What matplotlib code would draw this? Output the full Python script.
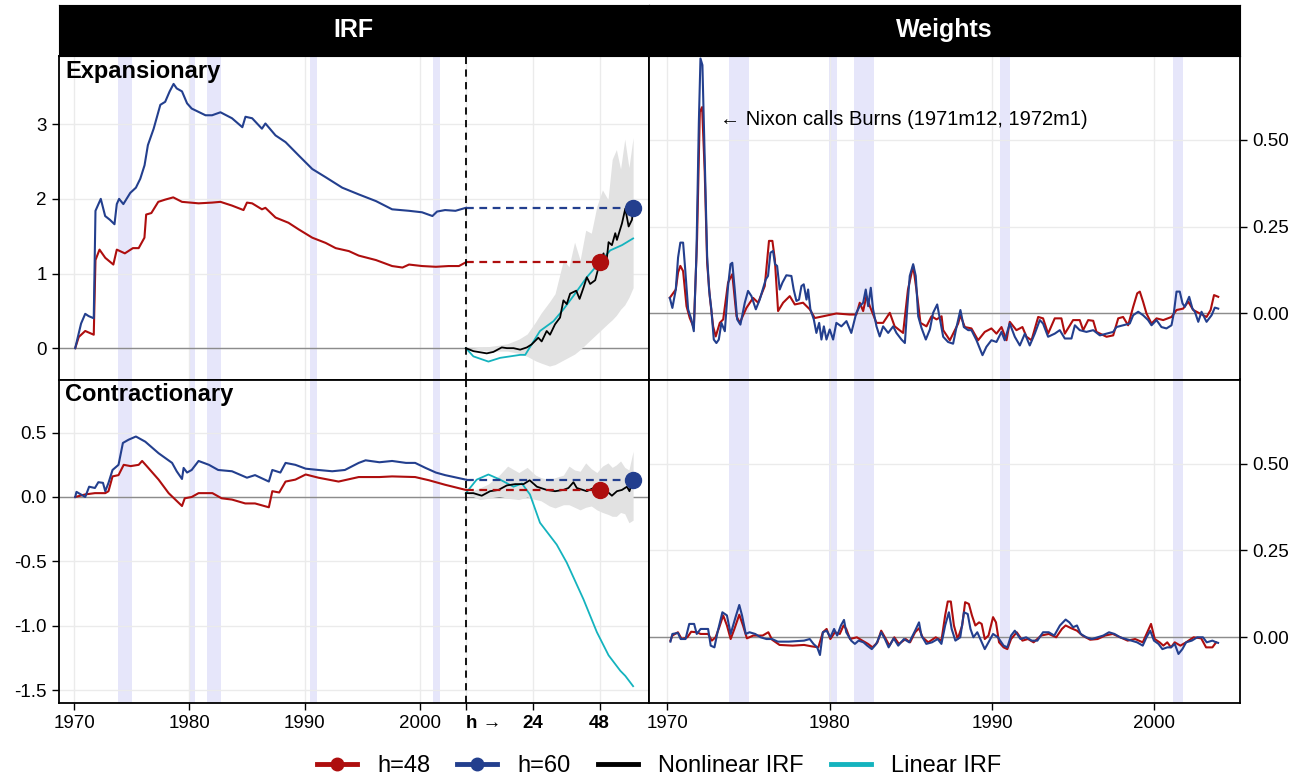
import numpy as np
import matplotlib
matplotlib.use('Agg')
import matplotlib.pyplot as plt
from matplotlib.lines import Line2D

plt.rcParams['font.family'] = ['Liberation Sans', 'DejaVu Sans']
plt.rcParams['axes.unicode_minus'] = False

RED = '#AE0E0E'; BLUE = '#233F8E'; TEAL = '#14B3BE'; BLACK = '#000000'
SHADE = '#E6E6FA'; BAND = '#E2E2E2'; GRID = '#EBEBEB'; ZERO = '#8C8C8C'

# ---------------- data ----------------
recessions = [(1973.8, 1975.05), (1979.95, 1980.45), (1981.5, 1982.75),
              (1990.5, 1991.1), (2001.15, 2001.75)]

# Expansionary IRF weighted by date (h=60, h=48)
exp_h60_t = [1970.09, 1970.6, 1970.96, 1971.25, 1971.7, 1971.85, 1972.31, 1972.69, 1973.1, 1973.5,
             1973.7, 1973.9, 1974.27, 1974.87, 1975.36, 1975.74, 1976.11, 1976.4, 1976.9, 1977.48,
             1977.9, 1978.29, 1978.63, 1978.9, 1979.36, 1979.8, 1980.2, 1981.4, 1981.97, 1982.7,
             1983.7, 1984.6, 1984.87, 1985.45, 1986.3, 1986.6, 1987.48, 1988.35, 1989.5, 1990.67,
             1991.83, 1993.27, 1994.7, 1996.2, 1997.6, 1999.07, 2000.2, 2001.1, 2001.5, 2002.2,
             2003.1, 2004.0]
exp_h60_v = [0.0, 0.33, 0.46, 0.43, 0.40, 1.84, 2.0, 1.77, 1.72, 1.66,
             1.93, 2.0, 1.93, 2.08, 2.15, 2.27, 2.45, 2.72, 2.94, 3.26,
             3.30, 3.44, 3.54, 3.48, 3.44, 3.28, 3.21, 3.12, 3.12, 3.16,
             3.08, 2.96, 3.10, 3.08, 2.94, 3.01, 2.85, 2.76, 2.58, 2.40,
             2.29, 2.15, 2.06, 1.97, 1.86, 1.84, 1.82, 1.77, 1.83, 1.85,
             1.84, 1.88]
exp_h48_t = [1970.09, 1970.4, 1970.96, 1971.4, 1971.7, 1971.85, 1972.2, 1972.7, 1973.4, 1973.7,
             1974.4, 1975.1, 1975.6, 1976.1, 1976.25, 1976.7, 1977.3, 1977.9, 1978.6, 1979.36,
             1980.8, 1981.97, 1982.7, 1983.7, 1984.7, 1985.0, 1985.45, 1986.3, 1986.6, 1987.48,
             1988.6, 1989.5, 1990.67, 1991.83, 1992.7, 1993.85, 1994.7, 1996.2, 1997.6, 1998.5,
             1999.07, 2000.2, 2001.4, 2002.5, 2003.4, 2004.0]
exp_h48_v = [0.0, 0.15, 0.23, 0.2, 0.18, 1.18, 1.32, 1.21, 1.12, 1.32,
             1.27, 1.34, 1.34, 1.48, 1.79, 1.81, 1.96, 1.99, 2.02, 1.96,
             1.94, 1.95, 1.96, 1.91, 1.85, 1.95, 1.94, 1.86, 1.88, 1.75,
             1.68, 1.59, 1.48, 1.41, 1.34, 1.30, 1.24, 1.18, 1.10, 1.08,
             1.12, 1.10, 1.09, 1.10, 1.10, 1.15]

# Contractionary IRF weighted by date
con_h60_t = [1970.09, 1970.2, 1970.96, 1971.3, 1971.8, 1972.1, 1972.5, 1972.7, 1972.98, 1973.33,
             1973.85, 1974.23, 1974.72, 1975.36, 1976.17, 1977.33, 1978.5, 1978.9, 1979.36, 1979.5,
             1979.8, 1980.2, 1980.8, 1981.7, 1982.5, 1983.7, 1985.0, 1985.7, 1986.9, 1987.2,
             1987.9, 1988.35, 1989.2, 1990.1, 1991.2, 1992.4, 1993.5, 1994.7, 1995.3, 1996.5,
             1997.6, 1998.8, 1999.6, 2000.5, 2001.4, 2002.2, 2004.0]
con_h60_v = [0.0, 0.04, 0.0, 0.08, 0.07, 0.115, 0.11, 0.045, 0.11, 0.21,
             0.25, 0.42, 0.445, 0.47, 0.43, 0.34, 0.265, 0.20, 0.14, 0.226,
             0.19, 0.21, 0.28, 0.25, 0.21, 0.20, 0.15, 0.17, 0.12, 0.21,
             0.19, 0.265, 0.25, 0.22, 0.21, 0.20, 0.21, 0.265, 0.285, 0.27,
             0.28, 0.265, 0.265, 0.226, 0.19, 0.17, 0.135]
con_h48_t = [1970.09, 1970.96, 1971.8, 1972.7, 1972.98, 1973.33, 1973.85, 1974.3, 1974.9, 1975.6,
             1975.9, 1976.3, 1977.33, 1978.2, 1979.36, 1979.6, 1980.2, 1980.8, 1982.0, 1982.8,
             1983.7, 1984.85, 1985.7, 1986.9, 1987.2, 1987.8, 1988.35, 1989.2, 1990.1, 1991.2,
             1992.95, 1994.7, 1996.5, 1997.6, 1999.6, 2000.8, 2002.2, 2004.0]
con_h48_v = [0.0, 0.02, 0.03, 0.03, 0.045, 0.16, 0.17, 0.25, 0.24, 0.25,
             0.28, 0.24, 0.135, 0.03, -0.07, -0.01, 0.0, 0.03, 0.03, -0.01,
             -0.02, -0.05, -0.05, -0.08, 0.045, 0.035, 0.12, 0.135, 0.175, 0.15,
             0.12, 0.155, 0.155, 0.16, 0.155, 0.13, 0.095, 0.055]

# IRFs by horizon
exp_nl_h = [0, 2.7, 7.5, 9.9, 12.9, 14.7, 17.1, 19.5, 21.9, 23.6, 26, 27.2, 29, 30.2, 32, 33.8, 35,
            36.2, 37.4, 39.6, 40.8, 42.2, 43.4, 44.6, 46.4, 48, 49.4, 50.2, 51.2, 52.4, 53.6, 54.2,
            56, 57.2, 58.4, 59.6, 60]
exp_nl_v = [0.0, -0.04, -0.07, -0.05, 0.01, 0.0, 0.0, -0.02, 0.01, 0.05, 0.14, 0.09, 0.23, 0.18,
            0.32, 0.41, 0.64, 0.59, 0.73, 0.77, 0.66, 0.81, 0.95, 0.86, 0.91, 1.14, 1.27, 1.07,
            1.42, 1.38, 1.54, 1.45, 1.67, 1.87, 1.63, 1.72, 1.88]
exp_lin_h = [0, 2.7, 8.1, 12.3, 15.9, 19.5, 21.3, 23.6, 26.6, 31.4, 35, 38.6, 43.4, 48, 51.8, 56, 60]
exp_lin_v = [0.0, -0.11, -0.18, -0.13, -0.11, -0.09, -0.09, 0.05, 0.23, 0.36, 0.52, 0.70, 0.95,
             1.15, 1.31, 1.38, 1.47]
con_nl_h = [0, 2.7, 5.7, 8.7, 11.7, 14.7, 17.7, 20.7, 22.9, 25.5, 29, 32, 35, 36.8, 38.6, 39.8,
            43.4, 45.8, 48, 50.6, 52.4, 54.2, 56, 57.8, 58.7, 60]
con_nl_v = [0.03, 0.03, 0.01, 0.045, 0.055, 0.09, 0.10, 0.10, 0.13, 0.08, 0.055, 0.045, 0.055,
            0.07, 0.115, 0.07, 0.045, 0.07, 0.055, 0.045, 0.01, 0.045, 0.055, 0.08, 0.045, 0.135]
con_lin_h = [0, 3.9, 8.1, 12.3, 17.1, 20.1, 23, 26.6, 32.6, 36.2, 42.2, 47, 51.2, 55.4, 57.2, 60]
con_lin_v = [0.03, 0.135, 0.175, 0.135, 0.08, 0.105, 0.02, -0.20, -0.37, -0.51, -0.795, -1.05,
             -1.23, -1.35, -1.39, -1.47]

band_h = [0, 5, 8, 12, 15, 19, 22, 25, 27, 30, 32, 35, 37, 39, 41, 43, 45, 47, 49, 51, 52.5, 54,
          55.5, 57, 58.5, 60]
exp_band_hi = [0.0, 0.01, 0.02, 0.04, 0.06, 0.12, 0.19, 0.35, 0.47, 0.62, 0.73, 1.18, 1.09, 1.42,
               1.18, 1.58, 1.54, 1.90, 2.12, 1.99, 2.53, 2.66, 2.40, 2.80, 2.42, 2.82]
exp_band_lo = [0.0, -0.03, -0.04, -0.04, -0.04, -0.07, -0.11, -0.17, -0.20, -0.24, -0.22, -0.16,
               -0.12, -0.08, -0.02, 0.05, 0.12, 0.19, 0.26, 0.33, 0.38, 0.44, 0.52, 0.58, 0.68, 0.81]
con_band_hi = [0.03, 0.07, 0.10, 0.17, 0.24, 0.19, 0.23, 0.17, 0.15, 0.135, 0.15, 0.17, 0.24, 0.21,
               0.20, 0.265, 0.22, 0.19, 0.24, 0.265, 0.23, 0.25, 0.28, 0.23, 0.21, 0.355]
con_band_lo = [0.03, -0.02, -0.01, 0.005, -0.01, -0.02, 0.0, -0.02, -0.03, -0.07, -0.085, -0.06,
               -0.06, -0.08, -0.10, -0.08, -0.07, -0.10, -0.12, -0.135, -0.15, -0.15, -0.12, -0.13,
               -0.20, -0.18]

# Weights, expansionary
wexp_h60_t = [1970.15, 1970.31, 1970.52, 1970.66, 1970.8, 1970.97, 1971.1, 1971.28, 1971.48, 1971.63,
              1971.79, 1971.94, 1972.04, 1972.16, 1972.3, 1972.45, 1972.57, 1972.71, 1972.86, 1973.02,
              1973.17, 1973.33, 1973.54, 1973.74, 1973.89, 1974.0, 1974.15, 1974.3, 1974.5, 1974.77,
              1974.97, 1975.18, 1975.45, 1975.69, 1976.06, 1976.2, 1976.35, 1976.51, 1976.63, 1976.76,
              1976.92, 1977.09, 1977.33, 1977.64, 1977.78, 1977.95, 1978.11, 1978.26, 1978.4, 1978.57,
              1978.67, 1978.81, 1979.02, 1979.18, 1979.35, 1979.49, 1979.64, 1979.8, 1980.0, 1980.21,
              1980.41, 1980.72, 1981.03, 1981.33, 1981.64, 1981.85, 1982.06, 1982.22, 1982.37, 1982.53,
              1982.67, 1982.88, 1983.08, 1983.29, 1983.6, 1983.91, 1984.11, 1984.42, 1984.63, 1984.77,
              1984.93, 1985.14, 1985.3, 1985.45, 1985.65, 1985.92, 1986.17, 1986.37, 1986.62,
              1986.99, 1987.29, 1987.6, 1987.81, 1988.05, 1988.26, 1988.53, 1988.73, 1989.04, 1989.41,
              1989.65, 1989.96, 1990.27, 1990.58, 1990.78, 1991.09, 1991.4, 1991.71, 1992.02, 1992.32,
              1992.63, 1992.94, 1993.14, 1993.45, 1993.86, 1994.17, 1994.48, 1994.89, 1995.1, 1995.4,
              1995.81, 1996.23, 1996.64, 1997.05, 1997.46, 1997.66, 1998.07, 1998.48, 1998.69, 1999.0,
              1999.3, 1999.61, 1999.82, 2000.13, 2000.43, 2000.74, 2001.05, 2001.19, 2001.36, 2001.56,
              2001.73, 2001.87, 2002.14, 2002.34, 2002.49, 2002.7, 2002.9, 2003.21, 2003.52, 2003.72,
              2003.93]
wexp_h60_v = [0.045, 0.016, 0.069, 0.161, 0.204, 0.204, 0.127, 0.012, -0.017, -0.051,
              0.166, 0.55, 0.734, 0.715, 0.455, 0.166, 0.069, 0.012, -0.075, -0.085,
              -0.075, -0.027, -0.051, 0.079, 0.142, 0.146, 0.069, -0.017, -0.032, 0.031,
              0.065, 0.05, 0.012, 0.04, 0.098, 0.108, 0.175, 0.18, 0.142, 0.137,
              0.069, 0.089, 0.11, 0.108, 0.069, 0.036, 0.04, 0.079, 0.084, 0.04,
              0.069, 0.012, -0.017, -0.056, -0.027, -0.075, -0.037, -0.075, -0.046, -0.075,
              -0.027, -0.037, -0.022, -0.056, 0.002, 0.021, 0.031, 0.069, 0.021, 0.074,
              0.012, -0.037, -0.066, -0.037, -0.056, -0.037, -0.056, -0.075, -0.085, 0.012,
              0.108, 0.142, 0.108, -0.008, -0.041, -0.075, -0.046, 0.002, 0.026,
              -0.067, -0.082, -0.087, -0.039, 0.01, -0.039, -0.048, -0.048, -0.077, -0.12,
              -0.096, -0.077, -0.082, -0.053, -0.077, -0.029, -0.067, -0.092, -0.058, -0.092,
              -0.058, -0.019, -0.029, -0.067, -0.058, -0.048, -0.072, -0.072, -0.034, -0.048,
              -0.053, -0.048, -0.063, -0.058, -0.053, -0.039, -0.034, -0.029, -0.005, 0.005,
              -0.005, -0.019, -0.034, -0.019, -0.039, -0.043, -0.034, 0.0, 0.063, 0.063,
              0.029, 0.019, 0.048, 0.014, 0.005, -0.024, 0.005, -0.024, -0.005, 0.017,
              0.014]
wexp_h48_t = [1970.15, 1970.52, 1970.66, 1970.8, 1970.97, 1971.18, 1971.38, 1971.63, 1971.83, 1972.0,
              1972.14, 1972.3, 1972.45, 1972.61, 1972.82, 1972.98, 1973.23, 1973.44, 1973.74, 1974.0,
              1974.26, 1974.46, 1974.87, 1975.28, 1975.59, 1976.0, 1976.26, 1976.47, 1976.62, 1976.82,
              1977.13, 1977.54, 1977.85, 1978.36, 1978.77, 1979.08, 1979.6, 1980.41, 1981.23, 1981.64,
              1981.85, 1982.06, 1982.26, 1982.47, 1982.88, 1983.29, 1983.7, 1984.0, 1984.52, 1984.82,
              1985.14, 1985.34, 1985.59, 1985.96, 1986.27, 1986.58, 1986.89,
              1986.99, 1987.4, 1987.91, 1988.05, 1988.32, 1988.73, 1989.14, 1989.55, 1989.96, 1990.27,
              1990.58, 1990.89, 1991.09, 1991.5, 1991.87, 1992.12, 1992.43, 1992.84, 1993.14, 1993.45,
              1993.86, 1994.27, 1994.48, 1994.99, 1995.4, 1995.61, 1995.92, 1996.23, 1996.43, 1997.05,
              1997.46, 1997.77, 1998.07, 1998.38, 1998.69, 1998.94, 1999.1, 1999.3, 1999.51, 1999.82,
              2000.13, 2000.54, 2001.05, 2001.36, 2001.77, 2002.08, 2002.39, 2002.8, 2003.21, 2003.46,
              2003.67, 2003.93]
wexp_h48_v = [0.045, 0.069, 0.118, 0.137, 0.122, 0.021, -0.013, -0.041, 0.214, 0.58,
              0.594, 0.41, 0.146, 0.05, -0.037, -0.066, -0.027, -0.017, 0.089, 0.113,
              -0.008, -0.027, 0.016, 0.045, 0.031, 0.079, 0.209, 0.209, 0.156, 0.007,
              0.031, 0.05, 0.026, 0.031, 0.012, -0.013, -0.008, 0.0, -0.003, -0.003,
              0.031, 0.007, 0.05, 0.021, -0.027, -0.027, 0.002, -0.037, -0.056, 0.069,
              0.137, 0.069, -0.027, -0.037, -0.008, -0.017, -0.008,
              -0.048, -0.077, -0.029, -0.005, -0.039, -0.043, -0.077, -0.053, -0.043, -0.058,
              -0.039, -0.077, -0.024, -0.048, -0.039, -0.067, -0.077, -0.01, -0.014, -0.058,
              -0.014, -0.014, -0.058, -0.019, -0.019, -0.048, -0.019, -0.021, -0.053, -0.067,
              -0.063, -0.014, -0.01, -0.034, 0.019, 0.058, 0.063, 0.034, 0.0, -0.029,
              -0.014, -0.019, -0.01, 0.01, 0.014, 0.034, 0.01, 0.0, -0.01, 0.01,
              0.053, 0.048]

# Weights, contractionary
wcon_h60_t = [1970.19, 1970.31, 1970.65, 1970.82, 1971.12, 1971.35, 1971.65, 1971.81, 1972.05, 1972.51,
              1972.67, 1972.9, 1973.09, 1973.39, 1973.67, 1973.9, 1974.2, 1974.43, 1974.6, 1974.83,
              1975.06, 1975.41, 1975.75, 1976.1, 1976.45, 1976.8, 1977.49, 1978.42, 1978.77, 1979.0,
              1979.23, 1979.4, 1979.58, 1979.81, 1980.04, 1980.27, 1980.46, 1980.69, 1980.88, 1981.02,
              1981.32, 1981.55, 1981.78, 1982.08, 1982.31, 1982.59, 1982.87, 1983.17, 1983.4, 1983.63,
              1983.94, 1984.22, 1984.57, 1984.9, 1985.26, 1985.5, 1985.65, 1985.95, 1986.3, 1986.65,
              1986.88, 1987.11, 1987.34, 1987.51, 1987.74, 1988.04, 1988.27, 1988.5, 1988.67, 1988.85,
              1989.09, 1989.32, 1989.55, 1989.78, 1990.06, 1990.36, 1990.71, 1990.94, 1991.17, 1991.4,
              1991.75, 1992.1, 1992.44, 1992.79, 1993.14, 1993.49, 1993.83, 1994.18, 1994.53, 1994.76,
              1994.99, 1995.23, 1995.46, 1995.8, 1996.15, 1996.5, 1996.85, 1997.2, 1997.54, 1997.89,
              1998.24, 1998.58, 1998.93, 1999.28, 1999.51, 1999.74, 1999.97, 2000.25, 2000.49, 2000.79,
              2001.02, 2001.25, 2001.48, 2001.72, 2001.95, 2002.3, 2002.64, 2002.99, 2003.22, 2003.57,
              2003.8, 2003.92]
wcon_h60_v = [-0.0125, 0.0096, 0.0125, -0.005, -0.005, 0.0385, 0.0385, 0.0096, 0.024, 0.024,
              -0.024, -0.029, 0.0145, 0.072, 0.063, 0.0096, 0.058, 0.093, 0.063, 0.0096,
              0.0145, 0.0096, 0.0, -0.005, -0.005, -0.0125, -0.0125, -0.0096, -0.005, -0.019,
              -0.029, -0.051, 0.0145, 0.019, 0.0, 0.024, 0.005, 0.034, 0.05, 0.0145,
              -0.0096, -0.019, -0.0096, -0.0145, -0.024, -0.034, -0.019, 0.0145, -0.005, -0.029,
              -0.003, -0.024, -0.005, -0.0145, 0.019, 0.043, 0.005, -0.019, -0.0145, -0.005,
              -0.019, 0.034, 0.072, 0.024, -0.0096, 0.0, 0.072, 0.067, 0.024, 0.0,
              0.0145, -0.0096, -0.034, -0.0145, 0.0096, 0.0, -0.024, -0.029, 0.005, 0.019,
              -0.005, 0.0, -0.0096, -0.0096, 0.0145, 0.0145, 0.005, 0.034, 0.051, 0.043,
              0.029, 0.034, 0.0096, 0.0, -0.005, 0.0, 0.005, 0.0145, 0.0096, 0.0,
              -0.005, -0.0096, -0.0145, -0.024, 0.0, 0.019, -0.0096, -0.019, -0.034, -0.029,
              -0.029, -0.019, -0.048, -0.034, -0.0145, -0.0096, 0.0, 0.0, -0.0145, -0.0096,
              -0.0145, -0.016]
wcon_h48_t = [1970.19, 1970.31, 1970.65, 1970.88, 1971.23, 1971.47, 1971.81, 1972.05, 1972.51, 1972.74,
              1972.97, 1973.2, 1973.44, 1973.67, 1973.9, 1974.13, 1974.43, 1974.66, 1974.9, 1975.29,
              1975.87, 1976.22, 1976.45, 1976.91, 1977.72, 1978.42, 1978.88, 1979.3, 1979.58, 1979.81,
              1980.04, 1980.32, 1980.62, 1980.85, 1981.02, 1981.25, 1981.67, 1982.01, 1982.36, 1982.64,
              1982.94, 1983.17, 1983.4, 1983.68, 1983.98, 1984.26, 1984.68, 1984.95, 1985.26, 1985.5,
              1985.72, 1986.07, 1986.53, 1986.88, 1987.11, 1987.27, 1987.46, 1987.65, 1987.88, 1988.16,
              1988.34, 1988.57, 1988.76, 1988.97, 1989.2, 1989.36, 1989.55, 1989.78, 1990.06, 1990.24,
              1990.43, 1990.71, 1990.94, 1991.17, 1991.52, 1991.87, 1992.21, 1992.56, 1993.02, 1993.49,
              1993.95, 1994.3, 1994.53, 1994.88, 1995.23, 1995.57, 1996.04, 1996.5, 1996.96, 1997.43,
              1997.89, 1998.35, 1998.81, 1999.28, 1999.56, 1999.79, 2000.02, 2000.32, 2000.55, 2000.79,
              2001.02, 2001.25, 2001.6, 2001.95, 2002.41, 2002.88, 2003.18, 2003.57, 2003.8]
wcon_h48_v = [-0.0096, 0.005, 0.0145, -0.005, 0.0, 0.016, 0.0145, 0.0096, 0.0096, -0.0096,
              0.0, 0.029, 0.063, 0.034, -0.005, 0.024, 0.065, 0.034, -0.003, 0.005,
              0.005, 0.0145, -0.007, -0.022, -0.024, -0.022, -0.026, -0.029, 0.0145, 0.024,
              -0.005, 0.0145, 0.0096, 0.034, 0.024, -0.005, 0.0, -0.0096, -0.019, -0.029,
              -0.0145, 0.019, 0.0, -0.024, 0.0, -0.019, -0.005, -0.0145, 0.0145, 0.026,
              0.0, -0.0145, 0.0, -0.0096, 0.063, 0.103, 0.103, 0.034, -0.005, 0.034,
              0.101, 0.096, 0.063, 0.034, 0.043, 0.0385, -0.005, 0.005, 0.058, 0.043,
              -0.0145, -0.029, -0.034, -0.005, 0.0145, -0.0096, -0.005, -0.0145, 0.005, 0.0096,
              0.0, 0.024, 0.034, 0.026, 0.019, 0.005, -0.007, -0.005, 0.005, 0.0096,
              0.0, -0.0096, -0.005, -0.0145, 0.0145, 0.0385, -0.005, -0.0145, -0.024, -0.0145,
              -0.029, -0.0145, -0.024, -0.0145, 0.0, -0.003, -0.029, -0.029, -0.0145]

x_date_ticks = [1970, 1980, 1990, 2000]
h_ticks = [24, 48]
annot = '\u2190 Nixon calls Burns (1971m12, 1972m1)'

# ---------------- layout ----------------
H0 = 2004.0   # start of horizon block on the IRF axis
K = 0.242     # axis units per month of horizon


def hx(h):
    return H0 + K * np.asarray(h, dtype=float)


W, Hpx = 1305, 778
fig = plt.figure(figsize=(W / 100, Hpx / 100), dpi=100)


def rect(x0, y0, x1, y1):
    return [x0 / W, 1 - y1 / Hpx, (x1 - x0) / W, (y1 - y0) / Hpx]


axTL = fig.add_axes(rect(58.5, 55.7, 649, 379.5))
axBL = fig.add_axes(rect(58.5, 379.5, 649, 703.3))
axTR = fig.add_axes(rect(649, 55.7, 1240, 379.5))
axBR = fig.add_axes(rect(649, 379.5, 1240, 703.3))

for r, lab in [((58.5, 5, 649, 55.7), 'IRF'), ((649, 5, 1240, 55.7), 'Weights')]:
    s = fig.add_axes(rect(*r))
    s.set_facecolor('black')
    s.set_xticks([]); s.set_yticks([])
    for sp in s.spines.values():
        sp.set_color('black')
    s.text(0.5, 0.5, lab, color='white', fontsize=18, fontweight='bold',
           ha='center', va='center', transform=s.transAxes)

TICK_FS = 13.5

for ax in (axTL, axBL, axTR, axBR):
    ax.set_axisbelow(True)
    ax.grid(True, color=GRID, lw=1.0, zorder=0)
    for sp in ax.spines.values():
        sp.set_color('black'); sp.set_linewidth(1.3)
    ax.tick_params(labelsize=TICK_FS, length=5, width=1.0, color='black', direction='out')
    for a, b in recessions:
        ax.axvspan(a, b, color=SHADE, lw=0, zorder=0.3)
    ax.axhline(0, color=ZERO, lw=1.0, zorder=1)

# left panels
for ax in (axTL, axBL):
    ax.set_xlim(1968.64, 2019.9)
    ax.set_xticks(x_date_ticks + [H0] + list(hx(h_ticks)))
    ax.axvline(H0, color='black', lw=1.3, ls=(0, (4, 3)), zorder=4)

axTL.set_ylim(-0.42, 3.918)
axTL.set_yticks([0, 1, 2, 3])
axTL.set_yticklabels(['0', '1', '2', '3'])
axBL.set_ylim(-1.603, 0.913)
axBL.set_yticks([0.5, 0.0, -0.5, -1.0, -1.5])
axBL.set_yticklabels(['0.5', '0.0', '-0.5', '-1.0', '-1.5'])

axTL.tick_params(axis='x', bottom=False, labelbottom=False)
axBL.set_xticklabels([str(t) for t in x_date_ticks] + ['h \u2192'] + [str(h) for h in h_ticks])
labs = axBL.get_xticklabels()
for i in (4, 5, 6):
    labs[i].set_fontweight('bold')
labs[4].set_horizontalalignment('left')

panels = [
    (axTL, exp_h48_t, exp_h48_v, exp_h60_t, exp_h60_v, exp_nl_h, exp_nl_v, exp_lin_h, exp_lin_v,
     exp_band_lo, exp_band_hi, 'Expansionary'),
    (axBL, con_h48_t, con_h48_v, con_h60_t, con_h60_v, con_nl_h, con_nl_v, con_lin_h, con_lin_v,
     con_band_lo, con_band_hi, 'Contractionary'),
]
for (ax, t48, v48, t60, v60, nh, nv, lh, lv, blo, bhi, title) in panels:
    ax.fill_between(hx(band_h), blo, bhi, color=BAND, lw=0, zorder=1.5)
    ax.plot(t48, v48, color=RED, lw=1.5, zorder=3)
    ax.plot(t60, v60, color=BLUE, lw=1.5, zorder=3)
    ax.plot(hx(lh), lv, color=TEAL, lw=1.3, zorder=3.5)
    ax.plot(hx(nh), nv, color=BLACK, lw=1.3, zorder=3.6)
    e48 = v48[-1]; e60 = v60[-1]
    ax.plot([H0, hx(48)], [e48, e48], color=RED, lw=1.6, ls=(0, (3.5, 2.5)), zorder=3.7)
    ax.plot([H0, hx(60)], [e60, e60], color=BLUE, lw=1.6, ls=(0, (3.5, 2.5)), zorder=3.7)
    ax.plot([hx(48)], [e48], 'o', color=RED, ms=11.5, zorder=5)
    ax.plot([hx(60)], [e60], 'o', color=BLUE, ms=11.5, zorder=5)
    ax.text(0.011, 0.988, title, transform=ax.transAxes, ha='left', va='top',
            fontsize=17, fontweight='bold', zorder=6)

# right panels
for ax in (axTR, axBR):
    ax.set_xlim(1968.87, 2005.27)
    ax.set_ylim(-0.19, 0.742)
    ax.set_xticks(x_date_ticks)
    ax.set_yticks([0.0, 0.25, 0.5])
    ax.set_yticklabels(['0.00', '0.25', '0.50'])
    ax.yaxis.tick_right()
    ax.tick_params(axis='y', left=False, right=True, labelleft=False, labelright=True)

axTR.tick_params(axis='x', bottom=False, labelbottom=False)
axBR.set_xticklabels([str(t) for t in x_date_ticks])

axTR.plot(wexp_h48_t, wexp_h48_v, color=RED, lw=1.5, zorder=3)
axTR.plot(wexp_h60_t, wexp_h60_v, color=BLUE, lw=1.5, zorder=3.2)
axBR.plot(wcon_h48_t, wcon_h48_v, color=RED, lw=1.5, zorder=3)
axBR.plot(wcon_h60_t, wcon_h60_v, color=BLUE, lw=1.5, zorder=3.2)
axTR.text(1973.23, 0.558, annot, ha='left', va='center', fontsize=14.5, zorder=6)

handles = [
    Line2D([], [], color=RED, lw=3.5, marker='o', ms=9),
    Line2D([], [], color=BLUE, lw=3.5, marker='o', ms=9),
    Line2D([], [], color=BLACK, lw=3.5),
    Line2D([], [], color=TEAL, lw=3.5),
]
labels = ['h=48', 'h=60', 'Nonlinear IRF', 'Linear IRF']
fig.legend(handles, labels, loc='center', bbox_to_anchor=(659 / W, 1 - 766 / Hpx), ncol=4,
           frameon=False, fontsize=17, handlelength=1.7, handletextpad=0.85,
           columnspacing=1.15, borderaxespad=0, borderpad=0)

fig.savefig('out.png', dpi=100)
